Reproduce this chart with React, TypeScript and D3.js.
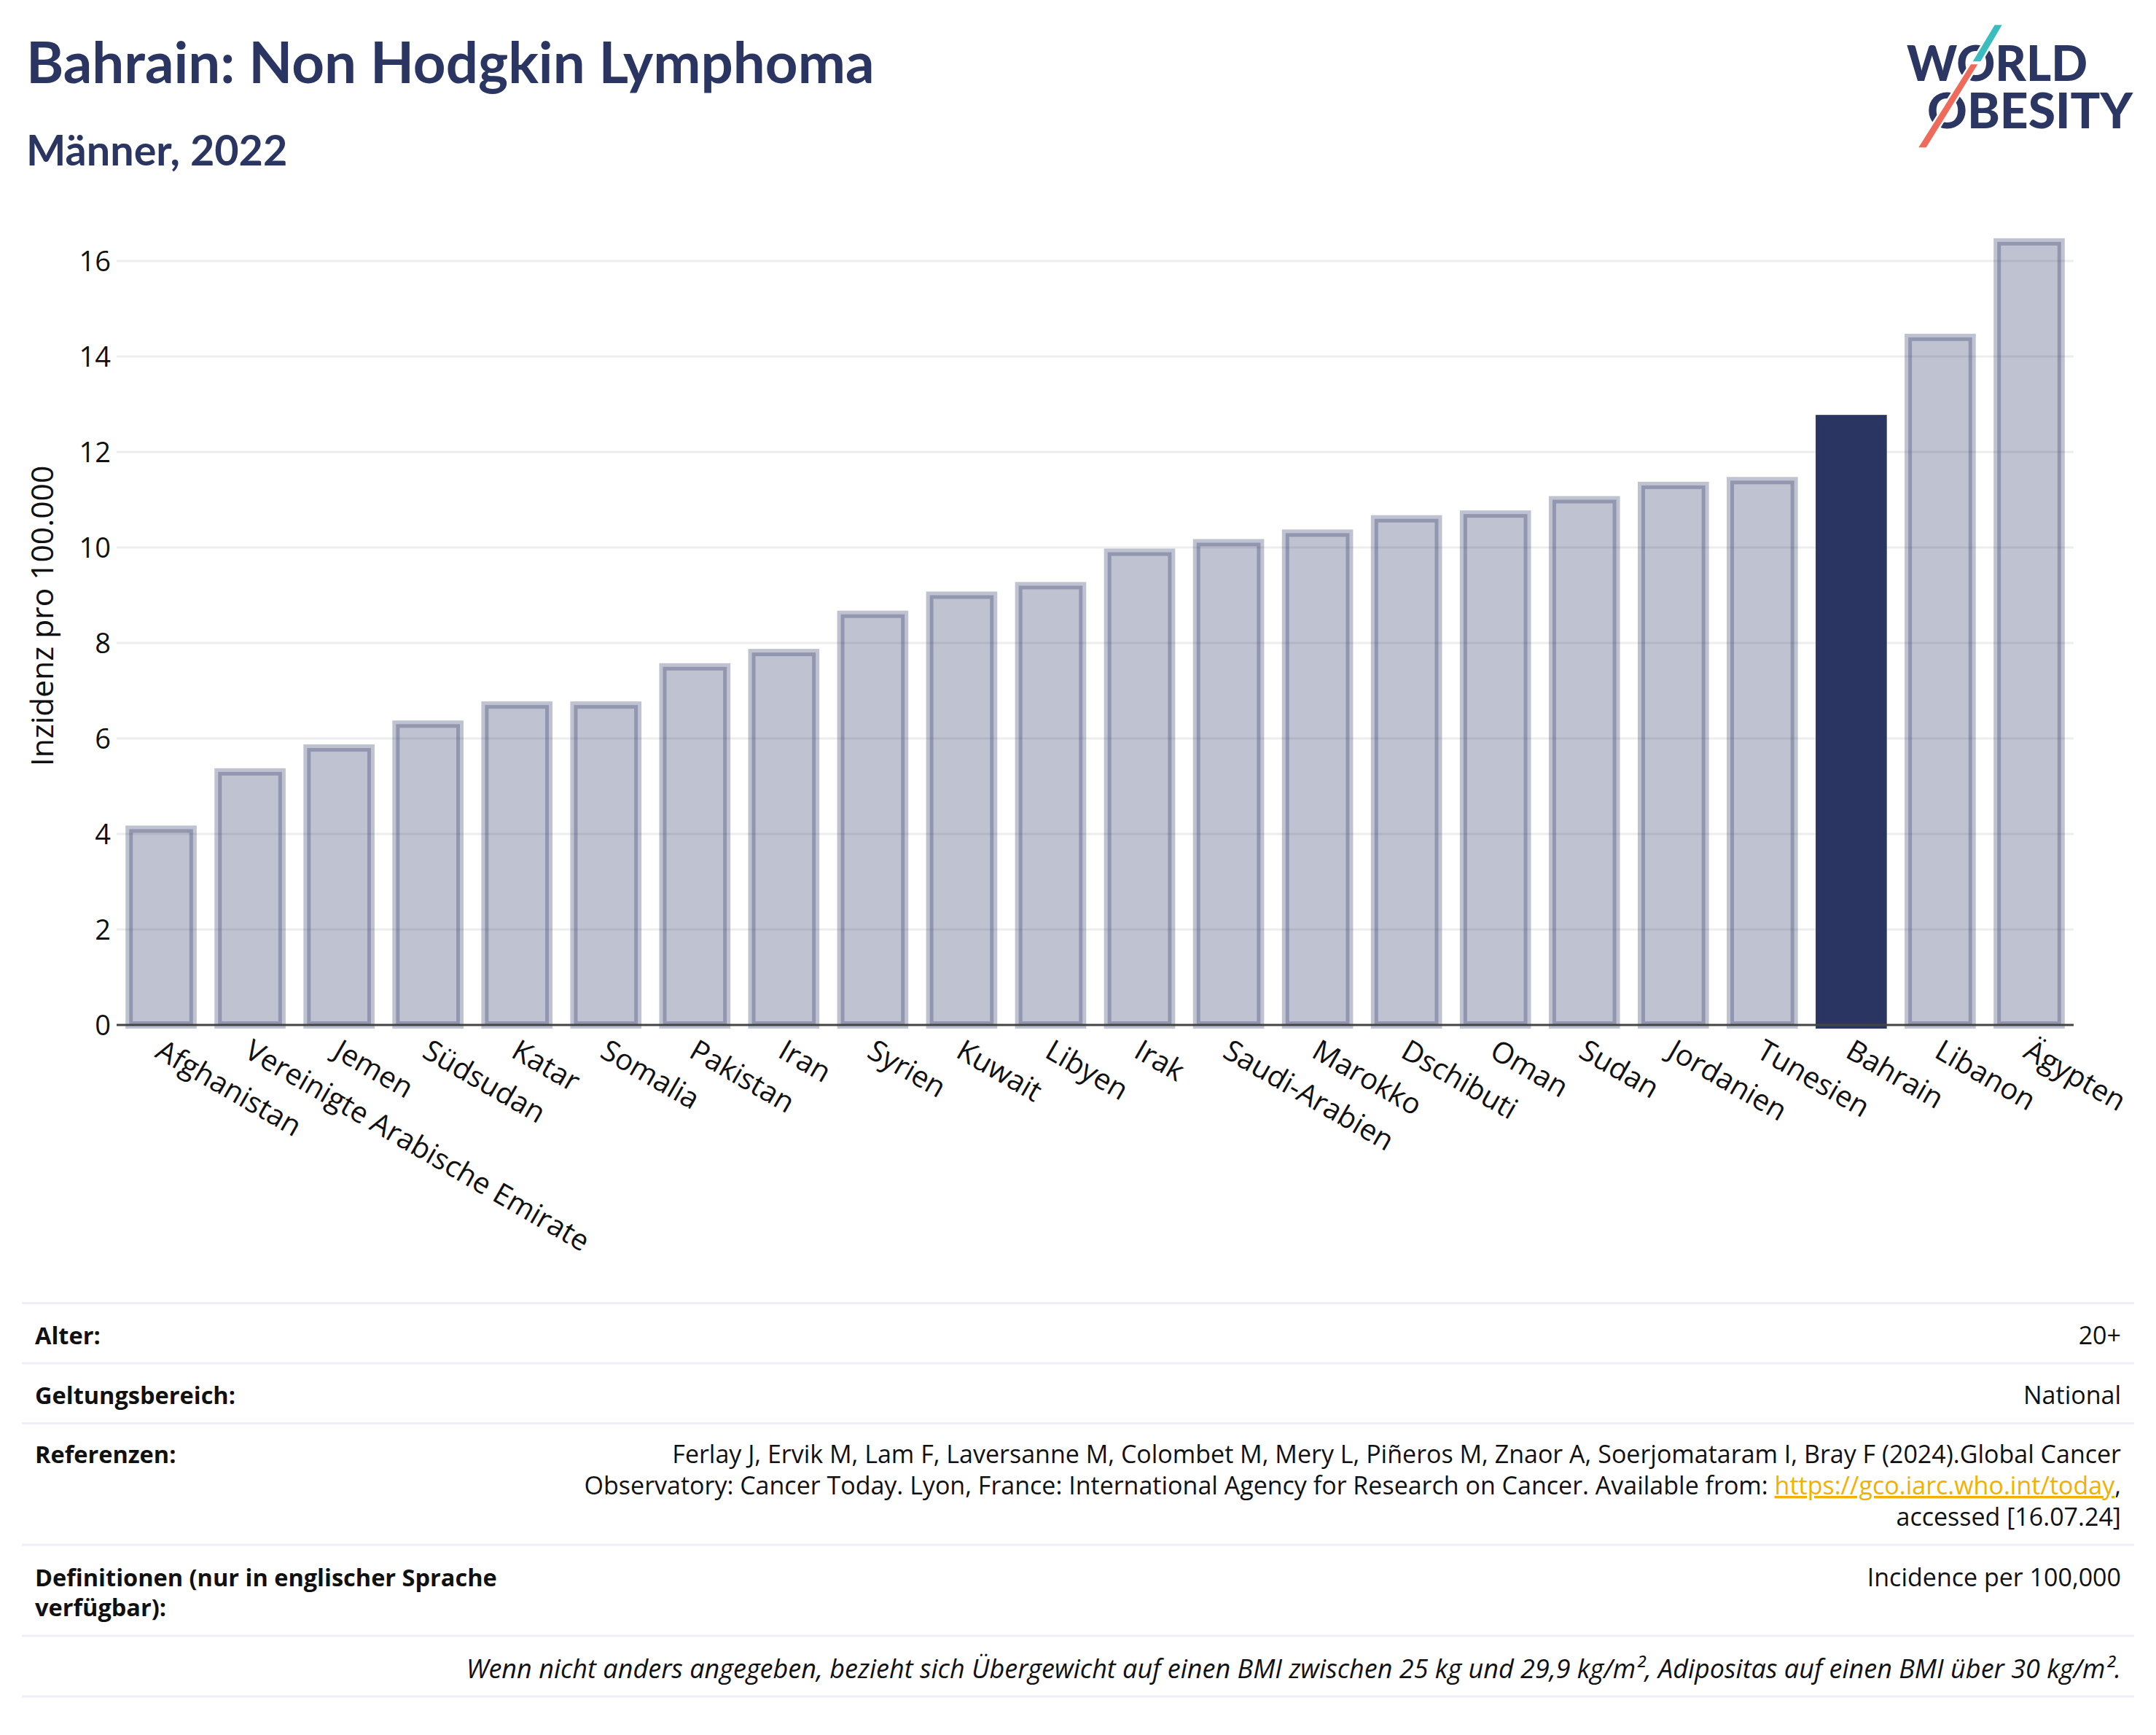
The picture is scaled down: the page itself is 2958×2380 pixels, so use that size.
import React from "react";
import * as d3 from "d3";

const countries = [
  "Afghanistan", "Vereinigte Arabische Emirate", "Jemen", "Südsudan", "Katar", "Somalia",
  "Pakistan", "Iran", "Syrien", "Kuwait", "Libyen", "Irak", "Saudi-Arabien", "Marokko",
  "Dschibuti", "Oman", "Sudan", "Jordanien", "Tunesien", "Bahrain", "Libanon", "Ägypten",
];
const values = [4.1, 5.3, 5.8, 6.3, 6.7, 6.7, 7.5, 7.8, 8.6, 9.0, 9.2, 9.9, 10.1, 10.3, 10.6, 10.7, 11.0, 11.3, 11.4, 12.7, 14.4, 16.4];
const highlight = "Bahrain";
const yTicks = [0, 2, 4, 6, 8, 10, 12, 14, 16];

const title = "Bahrain: Non Hodgkin Lymphoma";
const subtitle = "Männer, 2022";
const yTitle = "Inzidenz pro 100.000";

const infoLabels = ["Alter:", "Geltungsbereich:", "Referenzen:"];
const infoValues = ["20+", "National"];
const refLine1 = "Ferlay J, Ervik M, Lam F, Laversanne M, Colombet M, Mery L, Piñeros M, Znaor A, Soerjomataram I, Bray F (2024).Global Cancer";
const refLine2 = "Observatory: Cancer Today. Lyon, France: International Agency for Research on Cancer. Available from: ";
const refLink = "https://gco.iarc.who.int/today";
const refLine3 = "accessed [16.07.24]";
const defLabel = ["Definitionen (nur in englischer Sprache", "verfügbar):"];
const defValue = "Incidence per 100,000";
const note = "Wenn nicht anders angegeben, bezieht sich Übergewicht auf einen BMI zwischen 25 kg und 29,9 kg/m², Adipositas auf einen BMI über 30 kg/m².";

const W = 2958;
const H = 2380;
const NAVY = "#2a3562";
const FONT = "'Open Sans', 'Noto Sans', sans-serif";
const TFONT = "Lato, 'Open Sans', sans-serif";

export default function App() {
  const plotLeft = 160;
  const plotRight = 2845;
  const x = d3.scaleBand<string>().domain(countries).range([plotLeft, plotRight]).paddingInner(0.2).paddingOuter(0.1);
  const y = d3.scaleLinear().domain([0, 16]).range([1406, 358]);
  const bw = x.bandwidth();
  const sw = 10;

  const sepLines = [1787.5, 1870, 1952.5, 2119, 2244, 2327];
  const rightX = 2910;

  return (
    <svg width={W} height={H} viewBox={`0 0 ${W} ${H}`} style={{ position: "absolute", left: 0, top: 0, background: "#fff" }}>
      <rect x={0} y={0} width={W} height={H} fill="#fff" />
      {/* Titles */}
      <text x={36} y={114} fontFamily={TFONT} fontWeight={700} fontSize={78} fill={NAVY}>{title}</text>
      <text x={36} y={227} fontFamily={TFONT} fontWeight={700} fontSize={57.5} fill={NAVY}>{subtitle}</text>

      {/* Logo */}
      <g>
        <text x={2616} y={111} fontFamily={TFONT} fontWeight={900} fontSize={66} fill="#2b3663" textLength={248} lengthAdjust="spacingAndGlyphs">WORLD</text>
        <text x={2644} y={176} fontFamily={TFONT} fontWeight={900} fontSize={66} fill="#2b3663" textLength={282} lengthAdjust="spacingAndGlyphs">OBESITY</text>
        <polygon points="2736.7,34.3 2746.7,34.3 2717.3,84.3 2706.7,84.3" fill="#3bbdc0" stroke="#fff" strokeWidth={5} paintOrder="stroke" />
        <polygon points="2704,88.3 2713.3,88.3 2642.7,202.3 2632.3,202.3" fill="#ee6b5b" stroke="#fff" strokeWidth={5} paintOrder="stroke" />
      </g>

      {/* Gridlines */}
      {yTicks.filter((t) => t > 0).map((t) => (
        <line key={t} x1={plotLeft} x2={plotRight} y1={y(t)} y2={y(t)} stroke="#ededed" strokeWidth={3} />
      ))}

      {/* Bars */}
      {countries.map((c, i) => {
        const isH = c === highlight;
        const x0 = (x(c) as number) + sw / 2;
        const yTop = y(values[i]);
        const yBot = y(0);
        return (
          <rect
            key={c}
            x={x0}
            y={yTop}
            width={bw - sw}
            height={yBot - yTop}
            fill={isH ? NAVY : "rgba(42,53,98,0.3)"}
            stroke={isH ? NAVY : "rgba(42,53,98,0.3)"}
            strokeWidth={sw}
          />
        );
      })}

      {/* X axis line */}
      <line x1={plotLeft} x2={plotRight} y1={y(0)} y2={y(0)} stroke="#444" strokeWidth={3} />

      {/* Y tick labels */}
      {yTicks.map((t) => (
        <text key={t} x={152} y={y(t)} dy="0.36em" textAnchor="end" fontFamily={FONT} fontSize={38} fill="#111">{t}</text>
      ))}

      {/* Y title */}
      <text transform={`translate(73,845) rotate(-90)`} textAnchor="middle" fontFamily={FONT} fontSize={42.5} fill="#111">{yTitle}</text>

      {/* X tick labels */}
      {countries.map((c) => {
        const cx = (x(c) as number) + bw / 2 - 10;
        const cy = 1449;
        return (
          <text key={c} transform={`translate(${cx},${cy}) rotate(30)`} textAnchor="start" fontFamily={FONT} fontSize={40} fill="#111">{c}</text>
        );
      })}

      {/* Info table */}
      {sepLines.map((ly, i) => (
        <line key={i} x1={30} x2={2928} y1={ly} y2={ly} stroke="#edf0f6" strokeWidth={3} />
      ))}
      <g fontFamily={FONT} fill="#111">
        <g fontSize={32.5} fontWeight={700}>
          <text x={48} y={1844}>{infoLabels[0]}</text>
          <text x={48} y={1926}>{infoLabels[1]}</text>
          <text x={48} y={2007}>{infoLabels[2]}</text>
          <text x={48} y={2176}>{defLabel[0]}</text>
          <text x={48} y={2217}>{defLabel[1]}</text>
        </g>
        <g fontSize={34}>
          <text x={rightX} y={1844} textAnchor="end">{infoValues[0]}</text>
          <text x={rightX} y={1926} textAnchor="end">{infoValues[1]}</text>
          <text x={rightX} y={2007} textAnchor="end">{refLine1}</text>
          <text x={rightX} y={2050} textAnchor="end">
            {refLine2}
            <tspan fill="#f2b100" textDecoration="underline">{refLink}</tspan>
            ,
          </text>
          <text x={rightX} y={2093} textAnchor="end">{refLine3}</text>
          <text x={rightX} y={2176} textAnchor="end">{defValue}</text>
        </g>
        <text x={rightX} y={2302} textAnchor="end" fontStyle="italic" fontSize={36}>{note}</text>
      </g>
    </svg>
  );
}
